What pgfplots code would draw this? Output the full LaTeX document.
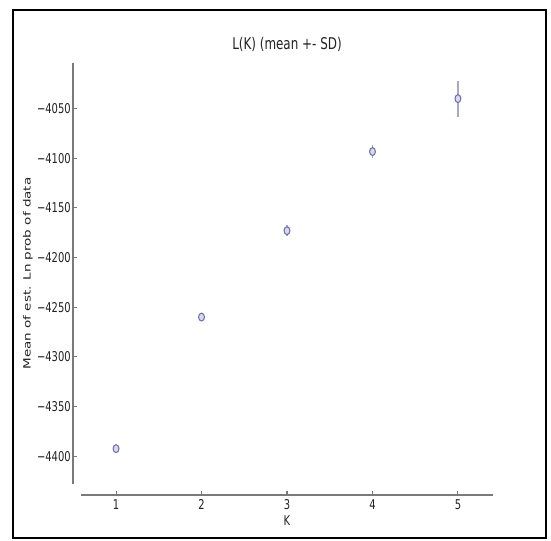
\documentclass[border=0pt]{standalone}
\usepackage{fontspec}
\usepackage{pgfplots}
\pgfplotsset{compat=1.18}
% the reference image is stretched vertically, so the text is too
\newfontfamily\mplfont[FakeStretch=0.74]{DejaVu Sans}
\newfontfamily\mplrot[FakeStretch=1.35]{DejaVu Sans}
\definecolor{spine}{HTML}{7A7A7A}
\definecolor{txt}{HTML}{222222}
\definecolor{markedge}{HTML}{7070B0}
\definecolor{markfill}{HTML}{D8D8EE}
\definecolor{errcol}{HTML}{A8A8C8}

\pgfplotstableread{
K     mean     sd
1  -4392.4   1
2  -4259.9   2
3  -4172.9   5.5
4  -4093.2   6.5
5  -4039.9   18.2
}\lk

\begin{document}
\begin{tikzpicture}
% page 551 x 541 px, 1 px = 0.75pt
\path (0,0) rectangle (413.25pt,405.75pt);
\draw[line width=1.8pt] (9.75pt,2.25pt) rectangle (409.5pt,398.25pt);
\begin{axis}[
    at={(60.75pt,42.75pt)}, anchor=south west,
    scale only axis, width=309pt, height=315.75pt,
    xmin=0.59, xmax=5.41, ymin=-4428, ymax=-4004,
    axis x line*=bottom, axis y line*=left,
    axis x line shift=8.25pt, axis y line shift=6pt,
    axis line style={-, draw=spine, line width=1.4pt},
    tick align=inside, major tick length=3pt,
    tick style={draw=spine, line width=0.8pt},
    xtick={1,2,3,4,5}, xticklabels={1,2,3,4,5},
    ytick={-4400,-4350,-4300,-4250,-4200,-4150,-4100,-4050},
    yticklabels={−4400,−4350,−4300,−4250,−4200,−4150,−4100,−4050},
    ticklabel style={font=\fontsize{10.1pt}{12pt}\mplfont, text=txt},
    xticklabel style={inner sep=0pt, anchor=north, yshift=-3pt},
    yticklabel style={inner sep=0pt, anchor=east, xshift=-1.5pt},
    title={L(K) (mean +- SD)},
    title style={font=\fontsize{12.1pt}{14pt}\mplfont, text=txt, inner sep=0pt,
        at={(axis description cs:0.5,1.024)}, anchor=center},
    xlabel={K},
    xlabel style={font=\fontsize{10.1pt}{12pt}\mplfont, text=txt, inner sep=0pt,
        at={(axis description cs:0.5,-0.088)}, anchor=center},
    ylabel={Mean of est. Ln prob of data},
    ylabel style={font=\fontsize{7.5pt}{9pt}\mplrot, text=txt, inner sep=0pt,
        at={(axis description cs:-0.129,0.5)}, anchor=center},
    clip=false,
]
% error bars first, markers on top
\addplot[draw=none, mark=none,
    error bars/.cd, y dir=both, y explicit, error mark=none,
    error bar style={draw=errcol, line width=1pt}]
    table[x=K, y=mean, y error=sd] {\lk};
\addplot[only marks, mark=*, mark size=2.2pt,
    mark options={draw=markedge, fill=markfill, line width=0.8pt, yscale=1.35}]
    table[x=K, y=mean] {\lk};
\end{axis}
\end{tikzpicture}
\end{document}
